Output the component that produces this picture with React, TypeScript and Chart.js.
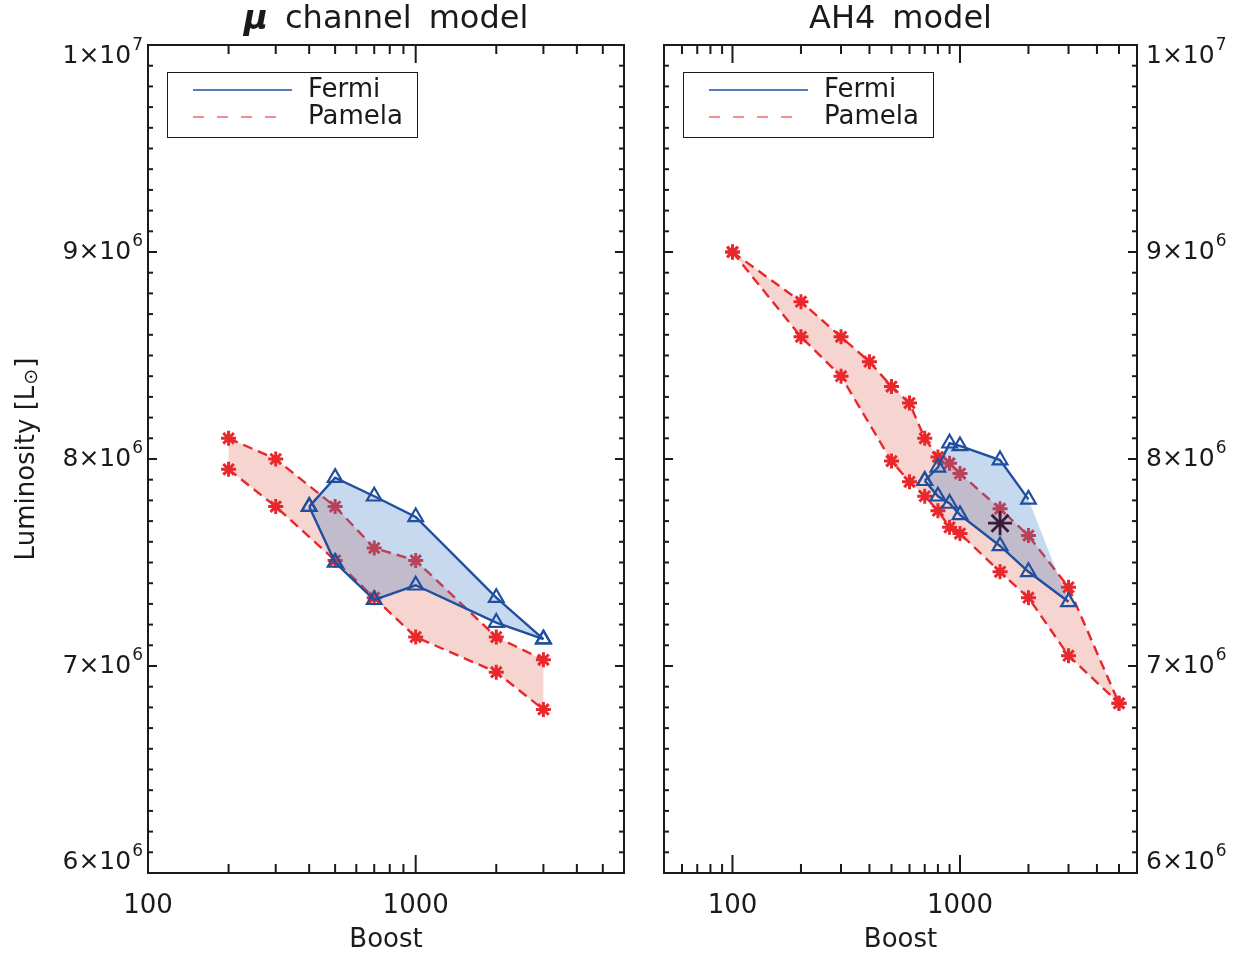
import { useEffect, useRef } from "react";
import { Chart, registerables } from "chart.js";

Chart.register(...registerables);

const FONT = '"DejaVu Sans", "Liberation Sans", sans-serif';
const INK = "#1a1a1a";
const FERMI_LINE = "#1f4f9e";
const FERMI_FILL = "rgba(70, 130, 200, 0.30)";
const PAMELA_LINE = "#e8282c";
const PAMELA_FILL = "#f6d4cf";
const PAMELA_LEGEND = "#f26868";
const BEST_FIT = "#3b1c38";

// μ channel model
const muPamelaBoost = [200, 300, 500, 700, 1000, 2000, 3000];
const muPamelaUpper = [8.1e6, 8.0e6, 7.77e6, 7.57e6, 7.51e6, 7.14e6, 7.03e6];
const muPamelaLower = [7.95e6, 7.77e6, 7.51e6, 7.33e6, 7.14e6, 6.97e6, 6.79e6];
const muFermiBoost = [400, 500, 700, 1000, 2000, 3000];
const muFermiUpper = [7.77e6, 7.91e6, 7.82e6, 7.72e6, 7.33e6, 7.13e6];
const muFermiLower = [7.77e6, 7.5e6, 7.32e6, 7.39e6, 7.21e6, 7.13e6];

// AH4 model
const ahPamelaUpperBoost = [100, 200, 300, 400, 500, 600, 700, 800, 900, 1000, 1500, 2000, 3000, 5000];
const ahPamelaUpper = [9.0e6, 8.76e6, 8.59e6, 8.47e6, 8.35e6, 8.27e6, 8.1e6, 8.01e6, 7.98e6, 7.93e6, 7.76e6, 7.63e6, 7.38e6, 6.82e6];
const ahPamelaLowerBoost = [100, 200, 300, 500, 600, 700, 800, 900, 1000, 1500, 2000, 3000, 5000];
const ahPamelaLower = [9.0e6, 8.59e6, 8.4e6, 7.99e6, 7.89e6, 7.82e6, 7.75e6, 7.67e6, 7.64e6, 7.455e6, 7.33e6, 7.05e6, 6.82e6];
const ahFermiUpperBoost = [700, 800, 900, 1000, 1500, 2000];
const ahFermiUpper = [7.895e6, 7.96e6, 8.076e6, 8.063e6, 7.995e6, 7.805e6];
const ahFermiLowerBoost = [700, 800, 900, 1000, 1500, 2000, 3000];
const ahFermiLower = [7.895e6, 7.82e6, 7.785e6, 7.73e6, 7.58e6, 7.455e6, 7.31e6];
const ahBestBoost = [1500];
const ahBestLum = [7.69e6];

// Axes
const boostLabels = [100, 1000];
const lumTicks = [6e6, 7e6, 8e6, 9e6, 1e7];
const lumMantissa = ["6", "7", "8", "9", "1"];
const lumExponent = ["6", "6", "6", "6", "7"];
const lumMin = 6e6;
const lumMax = 1e7;
const lumMinorStep = 1e5;
const legendLabels = ["Fermi", "Pamela"];

type Pt = { x: number; y: number };
const pts = (xs: number[], ys: number[]): Pt[] => xs.map((x, i) => ({ x, y: ys[i] }));
const outline = (ux: number[], uy: number[], lx: number[], ly: number[]) => [
  ...pts(ux, uy),
  ...pts(lx, ly).reverse(),
];

function fillSet(data: Pt[], color: string, order: number) {
  return {
    data,
    fill: "shape",
    backgroundColor: color,
    borderColor: "rgba(0,0,0,0)",
    borderWidth: 0,
    pointRadius: 0,
    order,
  };
}

function pamelaLine(data: Pt[]) {
  return {
    data,
    fill: false,
    borderColor: PAMELA_LINE,
    borderWidth: 2.4,
    borderDash: [10, 6],
    pointStyle: "star",
    pointRadius: 7.5,
    pointBorderColor: PAMELA_LINE,
    pointBackgroundColor: PAMELA_LINE,
    pointBorderWidth: 3,
    order: 4,
  };
}

function fermiLine(data: Pt[]) {
  return {
    data,
    fill: false,
    borderColor: FERMI_LINE,
    borderWidth: 2.4,
    pointStyle: "triangle",
    pointRadius: 8.5,
    pointBorderColor: FERMI_LINE,
    pointBackgroundColor: "rgba(0,0,0,0)",
    pointBorderWidth: 2.2,
    order: 2,
  };
}

type Panel = {
  id: string;
  left: number;
  width: number;
  padding: { left: number; top: number; right: number; bottom: number };
  xMin: number;
  xMax: number;
  ySide: "left" | "right";
  title: { text: string; font: string }[];
  showYTitle: boolean;
  datasets: any[];
};

const panels: Panel[] = [
  {
    id: "mu",
    left: 0,
    width: 645,
    padding: { left: 148, top: 45, right: 21, bottom: 82 },
    xMin: 100,
    xMax: 6000,
    ySide: "left",
    title: [
      { text: "μ", font: `bold italic 33px ${FONT}` },
      { text: "channel", font: `32px ${FONT}` },
      { text: "model", font: `32px ${FONT}` },
    ],
    showYTitle: true,
    datasets: [
      fillSet(outline(muPamelaBoost, muPamelaUpper, muPamelaBoost, muPamelaLower), PAMELA_FILL, 5),
      pamelaLine(pts(muPamelaBoost, muPamelaUpper)),
      pamelaLine(pts(muPamelaBoost, muPamelaLower)),
      fillSet(outline(muFermiBoost, muFermiUpper, muFermiBoost, muFermiLower), FERMI_FILL, 3),
      fermiLine(pts(muFermiBoost, muFermiUpper)),
      fermiLine(pts(muFermiBoost, muFermiLower)),
    ],
  },
  {
    id: "ah4",
    left: 645,
    width: 597,
    padding: { left: 19, top: 45, right: 105, bottom: 82 },
    xMin: 50,
    xMax: 6000,
    ySide: "right",
    title: [
      { text: "AH4", font: `32px ${FONT}` },
      { text: "model", font: `32px ${FONT}` },
    ],
    showYTitle: false,
    datasets: [
      fillSet(
        outline(ahPamelaUpperBoost, ahPamelaUpper, ahPamelaLowerBoost, ahPamelaLower),
        PAMELA_FILL,
        5
      ),
      pamelaLine(pts(ahPamelaUpperBoost, ahPamelaUpper)),
      pamelaLine(pts(ahPamelaLowerBoost, ahPamelaLower)),
      fillSet(
        outline(ahFermiUpperBoost, ahFermiUpper, ahFermiLowerBoost, ahFermiLower),
        FERMI_FILL,
        3
      ),
      fermiLine(pts(ahFermiUpperBoost, ahFermiUpper)),
      fermiLine(pts(ahFermiLowerBoost, ahFermiLower)),
      {
        data: pts(ahBestBoost, ahBestLum),
        showLine: false,
        pointStyle: "star",
        pointRadius: 12,
        pointBorderColor: BEST_FIT,
        pointBackgroundColor: BEST_FIT,
        pointBorderWidth: 2.8,
        order: 1,
      },
    ],
  },
];

function line(ctx: CanvasRenderingContext2D, x1: number, y1: number, x2: number, y2: number) {
  ctx.beginPath();
  ctx.moveTo(x1, y1);
  ctx.lineTo(x2, y2);
  ctx.stroke();
}

function drawPower(
  ctx: CanvasRenderingContext2D,
  mant: string,
  exp: string,
  x: number,
  y: number,
  align: "left" | "right"
) {
  const base = `25px ${FONT}`;
  const sup = `17px ${FONT}`;
  const main = `${mant}×10`;
  ctx.font = base;
  const w1 = ctx.measureText(main).width;
  ctx.font = sup;
  const w2 = ctx.measureText(exp).width;
  const x0 = align === "left" ? x : x - w1 - w2 - 1;
  ctx.textAlign = "left";
  ctx.textBaseline = "middle";
  ctx.font = base;
  ctx.fillText(main, x0, y);
  ctx.font = sup;
  ctx.fillText(exp, x0 + w1 + 1, y - 10);
}

function framePlugin(panel: Panel) {
  return {
    id: "idlFrame",
    afterDraw(chart: any) {
      const { ctx, chartArea: a, scales } = chart;
      const xs = scales.x;
      const ys = scales.y;
      const cx = (a.left + a.right) / 2;
      ctx.save();
      ctx.strokeStyle = INK;
      ctx.fillStyle = INK;
      ctx.lineWidth = 2;
      ctx.lineCap = "butt";
      ctx.strokeRect(a.left, a.top, a.right - a.left, a.bottom - a.top);

      // log ticks on bottom and top
      const d0 = Math.floor(Math.log10(panel.xMin));
      const d1 = Math.ceil(Math.log10(panel.xMax));
      for (let d = d0; d <= d1; d++) {
        for (let m = 1; m <= 9; m++) {
          const v = m * Math.pow(10, d);
          if (v <= panel.xMin || v >= panel.xMax) continue;
          const px = xs.getPixelForValue(v);
          const len = m === 1 ? 18 : 9;
          line(ctx, px, a.bottom, px, a.bottom - len);
          line(ctx, px, a.top, px, a.top + len);
        }
      }
      // linear ticks on left and right
      const n = Math.round((lumMax - lumMin) / lumMinorStep);
      for (let k = 1; k < n; k++) {
        const py = ys.getPixelForValue(lumMin + k * lumMinorStep);
        const len = k % 10 === 0 ? 9 : 5;
        line(ctx, a.left, py, a.left + len, py);
        line(ctx, a.right, py, a.right - len, py);
      }

      // x tick labels
      ctx.font = `26px ${FONT}`;
      ctx.textAlign = "center";
      ctx.textBaseline = "middle";
      boostLabels.forEach((v) => {
        ctx.fillText(String(v), xs.getPixelForValue(v), a.bottom + 33);
      });
      ctx.fillText("Boost", cx, a.bottom + 67);

      // y tick labels
      lumTicks.forEach((v, i) => {
        let py = ys.getPixelForValue(v);
        py = Math.max(a.top + 11, Math.min(a.bottom - 11, py));
        if (panel.ySide === "left") drawPower(ctx, lumMantissa[i], lumExponent[i], a.left - 5, py, "right");
        else drawPower(ctx, lumMantissa[i], lumExponent[i], a.right + 9, py, "left");
      });

      // panel title
      const gap = 17;
      let total = 0;
      const widths = panel.title.map((p) => {
        ctx.font = p.font;
        const w = ctx.measureText(p.text).width;
        total += w;
        return w;
      });
      total += gap * (panel.title.length - 1);
      let tx = cx - total / 2;
      ctx.textAlign = "left";
      panel.title.forEach((p, i) => {
        ctx.font = p.font;
        ctx.fillText(p.text, tx, 20);
        tx += widths[i] + gap;
      });

      // y axis title
      if (panel.showYTitle) {
        const cy = (a.top + a.bottom) / 2;
        ctx.save();
        ctx.translate(27, cy);
        ctx.rotate(-Math.PI / 2);
        const big = `26px ${FONT}`;
        const small = `19px ${FONT}`;
        const partA = "Luminosity [L";
        const partB = "⊙";
        const partC = "]";
        ctx.font = big;
        const wa = ctx.measureText(partA).width;
        const wc = ctx.measureText(partC).width;
        ctx.font = small;
        const wb = ctx.measureText(partB).width;
        let x = -(wa + wb + wc + 2) / 2;
        ctx.textAlign = "left";
        ctx.textBaseline = "middle";
        ctx.font = big;
        ctx.fillText(partA, x, 0);
        x += wa + 1;
        ctx.font = small;
        ctx.fillText(partB, x, 5);
        x += wb + 1;
        ctx.font = big;
        ctx.fillText(partC, x, 0);
        ctx.restore();
      }

      // legend
      const bx = a.left + 19;
      const by = a.top + 27;
      ctx.lineWidth = 1;
      ctx.strokeStyle = INK;
      ctx.strokeRect(bx + 0.5, by + 0.5, 250, 65);
      ctx.lineWidth = 1.5;
      ctx.strokeStyle = FERMI_LINE;
      line(ctx, bx + 26, by + 18, bx + 125, by + 18);
      ctx.strokeStyle = PAMELA_LEGEND;
      ctx.setLineDash([11, 13]);
      line(ctx, bx + 26, by + 45, bx + 118, by + 45);
      ctx.setLineDash([]);
      ctx.font = `26px ${FONT}`;
      ctx.fillStyle = INK;
      ctx.textAlign = "left";
      ctx.textBaseline = "middle";
      ctx.fillText(legendLabels[0], bx + 141, by + 18);
      ctx.fillText(legendLabels[1], bx + 141, by + 45);
      ctx.restore();
    },
  };
}

function PanelChart({ panel }: { panel: Panel }) {
  const ref = useRef<HTMLCanvasElement>(null);
  useEffect(() => {
    if (!ref.current) return;
    const chart = new Chart(ref.current, {
      type: "line",
      data: { datasets: panel.datasets },
      options: {
        animation: false,
        responsive: false,
        events: [],
        layout: { padding: panel.padding },
        plugins: {
          legend: { display: false },
          tooltip: { enabled: false },
          title: { display: false },
        },
        scales: {
          x: { type: "logarithmic", min: panel.xMin, max: panel.xMax, display: false },
          y: { type: "linear", min: lumMin, max: lumMax, display: false },
        },
      },
      plugins: [framePlugin(panel)],
    } as any);
    return () => chart.destroy();
  }, [panel]);
  return (
    <canvas
      ref={ref}
      width={panel.width}
      height={955}
      style={{ position: "absolute", left: panel.left, top: 0, width: panel.width, height: 955, display: "block" }}
    />
  );
}

export default function App() {
  return (
    <div
      style={{
        position: "absolute",
        left: 0,
        top: 0,
        width: 1242,
        height: 955,
        overflow: "hidden",
        background: "#ffffff",
      }}
    >
      {panels.map((p) => (
        <PanelChart key={p.id} panel={p} />
      ))}
    </div>
  );
}
